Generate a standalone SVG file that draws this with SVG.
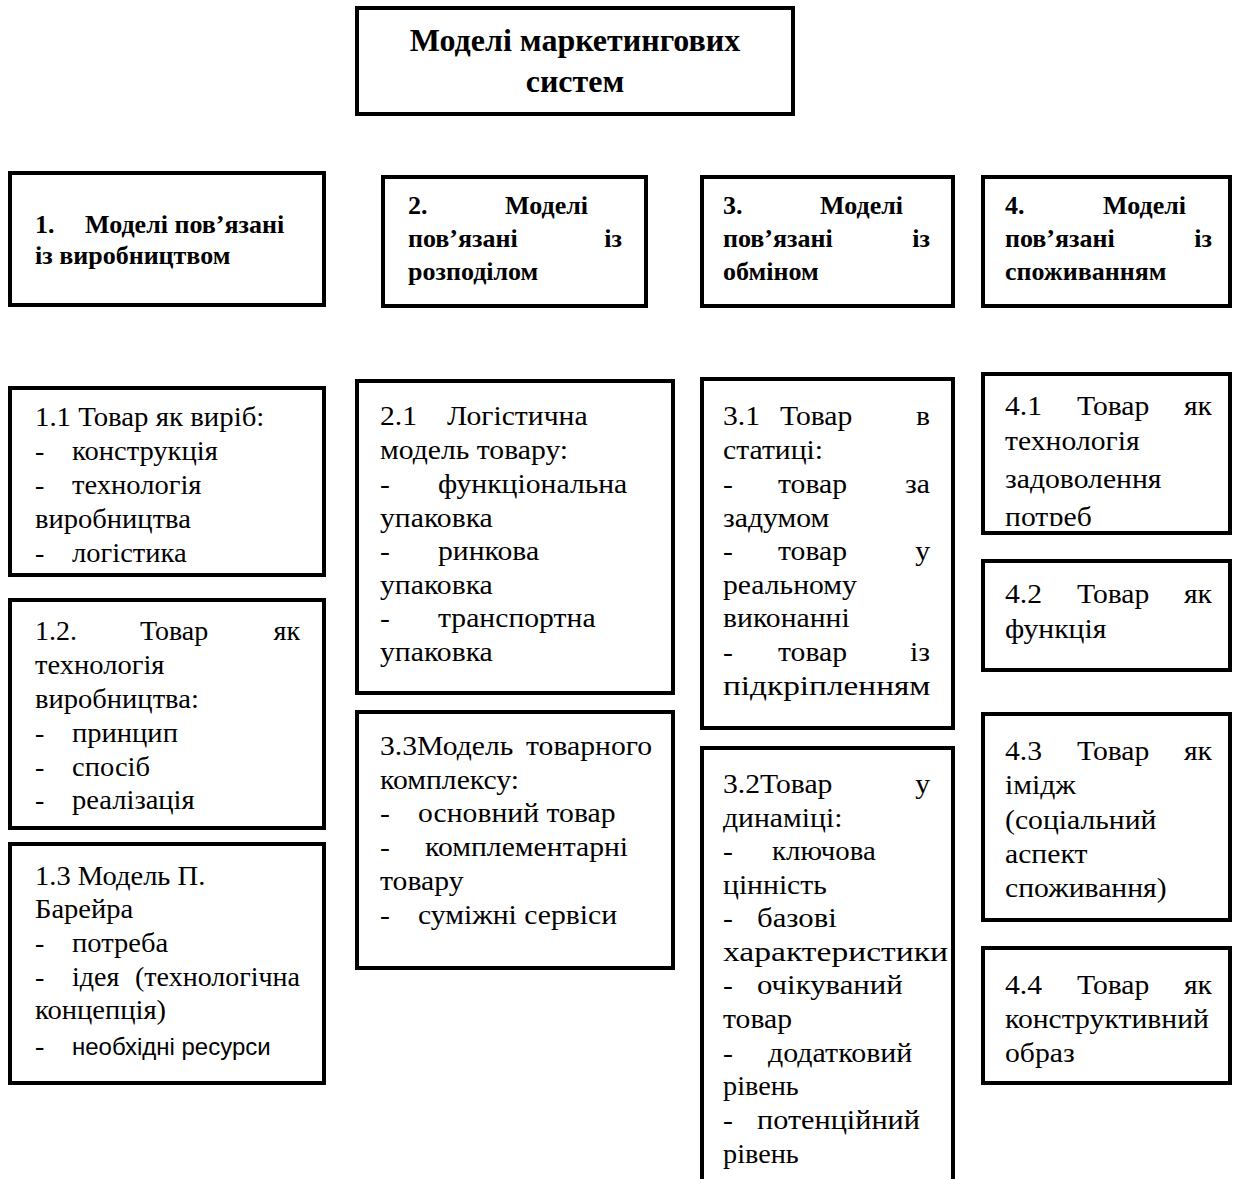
<svg xmlns="http://www.w3.org/2000/svg" width="1235" height="1179" viewBox="0 0 1235 1179">
<style>
.box{fill:#fff;stroke:#000;stroke-width:4}
.t{font-family:"Liberation Serif","Times New Roman",serif;font-size:28px;fill:#000}
.h{font-family:"Liberation Serif","Times New Roman",serif;font-size:26px;font-weight:bold;fill:#000}
.title{font-family:"Liberation Serif","Times New Roman",serif;font-size:32px;font-weight:bold;fill:#000;text-anchor:middle}
.s{font-family:"Liberation Sans",Arial,sans-serif;font-size:24px;fill:#000}
.e{text-anchor:end}
</style>
<defs>
<clipPath id="clip41"><rect x="983" y="374" width="247" height="152"/></clipPath>
</defs>
<rect width="1235" height="1179" fill="#fff"/>
<g id="connectors"/>

<g id="title">
<rect class="box" x="357" y="8" width="436" height="106"/>
<text class="title" x="575" y="51">Моделі маркетингових</text>
<text class="title" x="575" y="92">систем</text>
</g>

<g id="h1">
<rect class="box" x="10" y="173" width="314" height="132"/>
<text class="h" x="35" y="233">1.</text>
<text class="h" x="85" y="233">Моделі пов’язані</text>
<text class="h" x="35" y="264">із виробництвом</text>
</g>
<g id="h2">
<rect class="box" x="383" y="177" width="263" height="129"/>
<text class="h" x="408" y="214">2.</text>
<text class="h e" x="588" y="214">Моделі</text>
<text class="h" x="408" y="247">пов’язані</text>
<text class="h e" x="622" y="247">із</text>
<text class="h" x="408" y="280">розподілом</text>
</g>
<g id="h3">
<rect class="box" x="702" y="177" width="251" height="129"/>
<text class="h" x="723" y="214">3.</text>
<text class="h e" x="903" y="214">Моделі</text>
<text class="h" x="723" y="247">пов’язані</text>
<text class="h e" x="930" y="247">із</text>
<text class="h" x="723" y="280">обміном</text>
</g>
<g id="h4">
<rect class="box" x="983" y="177" width="247" height="129"/>
<text class="h" x="1005" y="214">4.</text>
<text class="h e" x="1186" y="214">Моделі</text>
<text class="h" x="1005" y="247">пов’язані</text>
<text class="h e" x="1212" y="247">із</text>
<text class="h" x="1005" y="280">споживанням</text>
</g>

<g id="n11">
<rect class="box" x="10" y="388" width="314" height="187"/>
<text class="t" transform="translate(35,426) scale(1.03,1)">1.1 Товар як виріб:</text>
<text class="t" x="35" y="460">-</text><text class="t" transform="translate(72,460) scale(1.02,1)">конструкція</text>
<text class="t" x="35" y="494">-</text><text class="t" transform="translate(72,494) scale(1.02,1)">технологія</text>
<text class="t" transform="translate(35,528) scale(1.02,1)">виробництва</text>
<text class="t" x="35" y="562">-</text><text class="t" transform="translate(72,562) scale(1.02,1)">логістика</text>
</g>
<g id="n12">
<rect class="box" x="10" y="600" width="314" height="228"/>
<text class="t" x="35" y="640">1.2.</text><text class="t" x="140" y="640">Товар</text><text class="t e" x="300" y="640">як</text>
<text class="t" transform="translate(35,674) scale(1.02,1)">технологія</text>
<text class="t" transform="translate(35,708) scale(1.02,1)">виробництва:</text>
<text class="t" x="35" y="742">-</text><text class="t" transform="translate(72,742) scale(1.02,1)">принцип</text>
<text class="t" x="35" y="776">-</text><text class="t" transform="translate(72,776) scale(1.02,1)">спосіб</text>
<text class="t" x="35" y="809">-</text><text class="t" transform="translate(72,809) scale(1.02,1)">реалізація</text>
</g>
<g id="n13">
<rect class="box" x="10" y="844" width="314" height="239"/>
<text class="t" transform="translate(35,885) scale(1.02,1)">1.3 Модель П.</text>
<text class="t" transform="translate(35,918) scale(1.02,1)">Барейра</text>
<text class="t" x="35" y="952">-</text><text class="t" transform="translate(72,952) scale(1.02,1)">потреба</text>
<text class="t" x="35" y="986">-</text><text class="t" x="72" y="986">ідея</text><text class="t e" x="300" y="986">(технологічна</text>
<text class="t" transform="translate(35,1019) scale(1.02,1)">концепція)</text>
<text class="t" x="35" y="1055">-</text><text class="s" x="72" y="1055">необхідні ресурси</text>
</g>

<g id="n21">
<rect class="box" x="357" y="381" width="316" height="312"/>
<text class="t" transform="translate(380,425) scale(1.06,1)">2.1</text><text class="t" transform="translate(447,425) scale(1.06,1)">Логістична</text>
<text class="t" transform="translate(380,459) scale(1.06,1)">модель товару:</text>
<text class="t" transform="translate(380,493) scale(1.06,1)">-</text><text class="t" transform="translate(438,493) scale(1.06,1)">функціональна</text>
<text class="t" transform="translate(380,527) scale(1.06,1)">упаковка</text>
<text class="t" transform="translate(380,560) scale(1.06,1)">-</text><text class="t" transform="translate(438,560) scale(1.06,1)">ринкова</text>
<text class="t" transform="translate(380,594) scale(1.06,1)">упаковка</text>
<text class="t" transform="translate(380,627) scale(1.06,1)">-</text><text class="t" transform="translate(438,627) scale(1.06,1)">транспортна</text>
<text class="t" transform="translate(380,661) scale(1.06,1)">упаковка</text>
</g>
<g id="n33">
<rect class="box" x="357" y="712" width="316" height="256"/>
<text class="t" transform="translate(380,755) scale(1.06,1)">3.3Модель</text><text class="t e" transform="translate(652,755) scale(1.06,1)">товарного</text>
<text class="t" transform="translate(380,789) scale(1.06,1)">комплексу:</text>
<text class="t" transform="translate(380,822) scale(1.06,1)">-</text><text class="t" transform="translate(418,822) scale(1.06,1)">основний товар</text>
<text class="t" transform="translate(380,856) scale(1.06,1)">-</text><text class="t" transform="translate(425,856) scale(1.06,1)">комплементарні</text>
<text class="t" transform="translate(380,890) scale(1.06,1)">товару</text>
<text class="t" transform="translate(380,924) scale(1.06,1)">-</text><text class="t" transform="translate(418,924) scale(1.06,1)">суміжні сервіси</text>
</g>

<g id="n31">
<rect class="box" x="702" y="379" width="251" height="349"/>
<text class="t" transform="translate(723,425) scale(1.06,1)">3.1</text><text class="t" transform="translate(780,425) scale(1.06,1)">Товар</text><text class="t e" transform="translate(930,425) scale(1.06,1)">в</text>
<text class="t" transform="translate(723,459) scale(1.06,1)">статиці:</text>
<text class="t" transform="translate(723,493) scale(1.06,1)">-</text><text class="t" transform="translate(778,493) scale(1.06,1)">товар</text><text class="t e" transform="translate(930,493) scale(1.06,1)">за</text>
<text class="t" transform="translate(723,527) scale(1.06,1)">задумом</text>
<text class="t" transform="translate(723,560) scale(1.06,1)">-</text><text class="t" transform="translate(778,560) scale(1.06,1)">товар</text><text class="t e" transform="translate(930,560) scale(1.06,1)">у</text>
<text class="t" transform="translate(723,594) scale(1.06,1)">реальному</text>
<text class="t" transform="translate(723,627) scale(1.06,1)">виконанні</text>
<text class="t" transform="translate(723,661) scale(1.06,1)">-</text><text class="t" transform="translate(778,661) scale(1.06,1)">товар</text><text class="t e" transform="translate(930,661) scale(1.06,1)">із</text>
<text class="t" transform="translate(723,695) scale(1.19,1)">підкріпленням</text>
</g>
<g id="n32">
<rect class="box" x="702" y="748" width="251" height="450"/>
<text class="t" transform="translate(723,793) scale(1.06,1)">3.2Товар</text><text class="t e" transform="translate(930,793) scale(1.06,1)">у</text>
<text class="t" transform="translate(723,827) scale(1.06,1)">динаміці:</text>
<text class="t" transform="translate(723,860) scale(1.06,1)">-</text><text class="t" transform="translate(772,860) scale(1.03,1)">ключова</text>
<text class="t" transform="translate(723,894) scale(1.06,1)">цінність</text>
<text class="t" transform="translate(723,927) scale(1.06,1)">-</text><text class="t" transform="translate(757,927) scale(1.1,1)">базові</text>
<text class="t" transform="translate(723,961) scale(1.2,1)">характеристики</text>
<text class="t" transform="translate(723,994) scale(1.06,1)">-</text><text class="t" transform="translate(757,994) scale(1.1,1)">очікуваний</text>
<text class="t" transform="translate(723,1028) scale(1.06,1)">товар</text>
<text class="t" transform="translate(723,1062) scale(1.06,1)">-</text><text class="t" transform="translate(768,1062) scale(1.07,1)">додатковий</text>
<text class="t" transform="translate(723,1095) scale(1.01,1)">рівень</text>
<text class="t" transform="translate(723,1129) scale(1.06,1)">-</text><text class="t" transform="translate(757,1129) scale(1.08,1)">потенційний</text>
<text class="t" transform="translate(723,1163) scale(1.01,1)">рівень</text>
</g>

<g id="n41">
<rect class="box" x="983" y="374" width="247" height="159"/>
<g clip-path="url(#clip41)">
<text class="t" transform="translate(1005,415) scale(1.06,1)">4.1</text><text class="t" transform="translate(1077,415) scale(1.06,1)">Товар</text><text class="t e" transform="translate(1212,415) scale(1.06,1)">як</text>
<text class="t" transform="translate(1005,450) scale(1.06,1)">технологія</text>
<text class="t" transform="translate(1005,488) scale(1.06,1)">задоволення</text>
<text class="t" transform="translate(1005,526) scale(1.06,1)">потреб</text>
</g>
</g>
<g id="n42">
<rect class="box" x="983" y="561" width="247" height="109"/>
<text class="t" transform="translate(1005,603) scale(1.06,1)">4.2</text><text class="t" transform="translate(1077,603) scale(1.06,1)">Товар</text><text class="t e" transform="translate(1212,603) scale(1.06,1)">як</text>
<text class="t" transform="translate(1005,638) scale(1.06,1)">функція</text>
</g>
<g id="n43">
<rect class="box" x="983" y="714" width="247" height="206"/>
<text class="t" transform="translate(1005,760) scale(1.06,1)">4.3</text><text class="t" transform="translate(1077,760) scale(1.06,1)">Товар</text><text class="t e" transform="translate(1212,760) scale(1.06,1)">як</text>
<text class="t" transform="translate(1005,794) scale(1.06,1)">імідж</text>
<text class="t" transform="translate(1005,829) scale(1.06,1)">(соціальний</text>
<text class="t" transform="translate(1005,863) scale(1.06,1)">аспект</text>
<text class="t" transform="translate(1005,897) scale(1.06,1)">споживання)</text>
</g>
<g id="n44">
<rect class="box" x="983" y="948" width="247" height="135"/>
<text class="t" transform="translate(1005,994) scale(1.06,1)">4.4</text><text class="t" transform="translate(1077,994) scale(1.06,1)">Товар</text><text class="t e" transform="translate(1212,994) scale(1.06,1)">як</text>
<text class="t" transform="translate(1005,1028) scale(1.06,1)">конструктивний</text>
<text class="t" transform="translate(1005,1062) scale(1.06,1)">образ</text>
</g>
</svg>
